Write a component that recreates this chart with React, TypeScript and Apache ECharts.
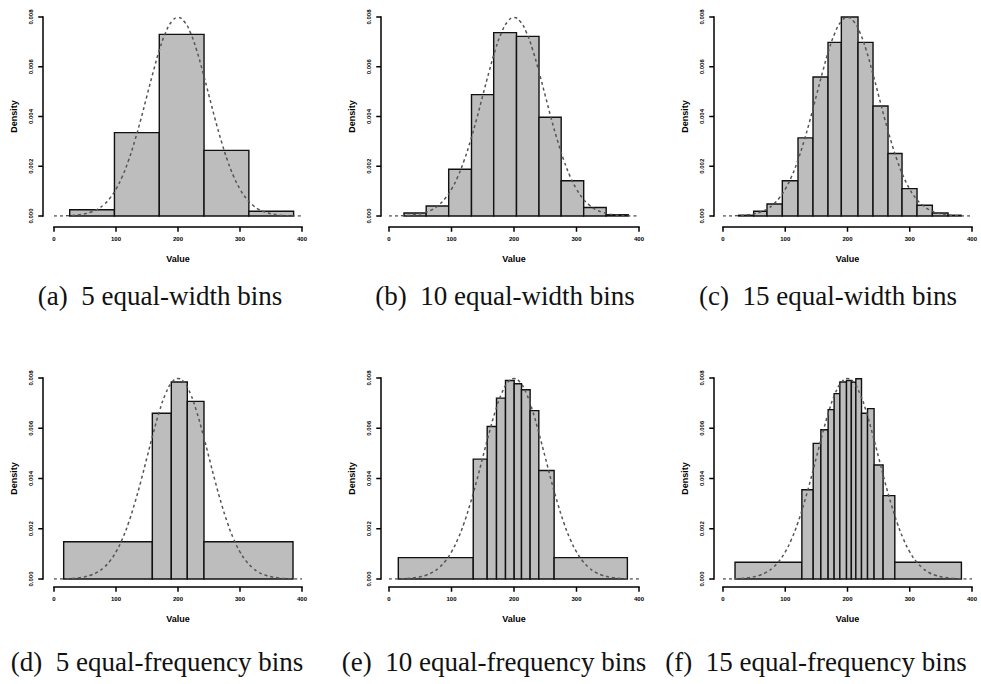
import React, { useEffect, useRef } from "react";
import * as echarts from "echarts";

// Density curve (dashed)
const CURVE_X = [0, 10, 20, 30, 40, 50, 60, 70, 80, 90, 100, 110, 120, 130, 140, 150, 160, 170, 180, 190, 200,
  210, 220, 230, 240, 250, 260, 270, 280, 290, 300, 310, 320, 330, 340, 350, 360, 370, 380, 390, 400];
const CURVE_Y = [0.0, 0.0, 0.00001, 0.00002, 0.00005, 0.00009, 0.00016, 0.00027, 0.00045, 0.00071, 0.00108,
  0.00158, 0.00222, 0.003, 0.00388, 0.00484, 0.00579, 0.00667, 0.00737, 0.00782, 0.00798,
  0.00782, 0.00737, 0.00667, 0.00579, 0.00484, 0.00388, 0.003, 0.00222, 0.00158, 0.00108,
  0.00071, 0.00045, 0.00027, 0.00016, 0.00009, 0.00005, 0.00002, 0.00001, 0.0, 0.0];

// (a) 5 equal-width bins
const EDGES_A = [25.3, 97.5, 169.8, 242.0, 314.3, 386.5];
const DENS_A = [0.00025, 0.00335, 0.0073, 0.00264, 0.00019];
// (b) 10 equal-width bins
const EDGES_B = [24, 59.5, 95.5, 132, 167.5, 204, 240, 275.5, 311.5, 347.5, 383];
const DENS_B = [0.00012, 0.0004, 0.00188, 0.00488, 0.00737, 0.00722, 0.00397, 0.00142, 0.00034, 0.00005];
// (c) 15 equal-width bins
const EDGES_C = [25.2, 49.3, 70.7, 95.3, 120.5, 144.6, 168.7, 190.1, 216.9, 241.0, 265.1, 287.6, 311.7, 336.3, 361.5, 382.9];
const DENS_C = [0.00003, 0.00019, 0.00048, 0.00142, 0.00314, 0.00559, 0.00698, 0.008, 0.00698, 0.00442, 0.00251, 0.0011, 0.00043, 0.00012, 0.00003];
// (d) 5 equal-frequency bins
const EDGES_D = [15.6, 158.6, 189.2, 215, 241.9, 385.5];
const DENS_D = [0.00148, 0.0066, 0.00784, 0.00707, 0.00148];
// (e) 10 equal-frequency bins
const EDGES_E = [14.9, 134.8, 157.1, 172.0, 186.4, 200.3, 212.0, 225.8, 239.7, 264.2, 381.4];
const DENS_E = [0.00085, 0.00477, 0.00607, 0.0072, 0.0079, 0.00777, 0.00753, 0.0067, 0.00432, 0.00085];
// (f) 15 equal-frequency bins
const EDGES_F = [19.3, 126.7, 144.9, 157.2, 168.9, 178.5, 187.7, 198.4, 206.2, 213.4, 222.5, 232.2, 242.7, 257.2, 276.0, 383.0];
const DENS_F = [0.000665, 0.00355, 0.0054, 0.00594, 0.00674, 0.00738, 0.00784, 0.0079, 0.00783, 0.00797, 0.0066, 0.00678, 0.00454, 0.00332, 0.000665];

const X_TICKS = [0, 100, 200, 300, 400];
const Y_TICKS = [0, 0.002, 0.004, 0.006, 0.008];

const CAPTIONS = [
  "(a)  5 equal-width bins",
  "(b)  10 equal-width bins",
  "(c)  15 equal-width bins",
  "(d)  5 equal-frequency bins",
  "(e)  10 equal-frequency bins",
  "(f)  15 equal-frequency bins",
];
const X_NAME = "Value";
const Y_NAME = "Density";

const PANELS = [
  { edges: EDGES_A, dens: DENS_A },
  { edges: EDGES_B, dens: DENS_B },
  { edges: EDGES_C, dens: DENS_C },
  { edges: EDGES_D, dens: DENS_D },
  { edges: EDGES_E, dens: DENS_E },
  { edges: EDGES_F, dens: DENS_F },
];

const LAYOUT = [
  { left: 54, top: 17, width: 248, height: 199, yOff: 11, xOff: 11, capX: 160, capY: 296 },
  { left: 389, top: 17, width: 250, height: 199, yOff: 8, xOff: 11, capX: 505, capY: 296 },
  { left: 723, top: 17, width: 249, height: 199, yOff: 9, xOff: 11, capX: 828, capY: 296 },
  { left: 54, top: 378, width: 248, height: 201, yOff: 11, xOff: 8, capX: 157, capY: 662 },
  { left: 389, top: 378, width: 250, height: 201, yOff: 8, xOff: 8, capX: 494, capY: 662 },
  { left: 723, top: 378, width: 249, height: 201, yOff: 9, xOff: 8, capX: 816, capY: 662 },
];

const SANS = "Liberation Sans";
const TICK_LEN = 4;
const LW = 1.5;

// Detached R-style axis lines and ticks, built as thin filled rectangles
function axisRects(toPx: (v: number[]) => number[], yOff: number, xOff: number) {
  const o = toPx([X_TICKS[0], Y_TICKS[0]]);
  const topY = toPx([X_TICKS[0], Y_TICKS[Y_TICKS.length - 1]])[1];
  const rightX = toPx([X_TICKS[X_TICKS.length - 1], Y_TICKS[0]])[0];
  const ax = o[0] - yOff;
  const ay = o[1] + xOff;
  const h = LW / 2;
  const r = (x: number, y: number, w: number, hh: number) => ({
    type: "rect",
    shape: { x, y, width: w, height: hh },
    style: { fill: "#000", stroke: "none" },
  });
  const out: any[] = [
    r(ax - h, topY - h, LW, o[1] - topY + LW),
    r(o[0] - h, ay - h, rightX - o[0] + LW, LW),
  ];
  Y_TICKS.forEach((t) => {
    const y = toPx([X_TICKS[0], t])[1];
    out.push(r(ax - TICK_LEN - h, y - h, TICK_LEN + h, LW));
  });
  X_TICKS.forEach((t) => {
    const x = toPx([t, Y_TICKS[0]])[0];
    out.push(r(x - h, ay, LW, TICK_LEN + h));
  });
  return out;
}

export default function App() {
  const ref = useRef<HTMLDivElement>(null);
  useEffect(() => {
    if (!ref.current) return;
    const chart = echarts.init(ref.current, null, { renderer: "svg" });
    const grids = LAYOUT.map((l) => ({ left: l.left, top: l.top, width: l.width, height: l.height }));
    const xAxes = LAYOUT.map((l, i) => ({
      type: "value",
      gridIndex: i,
      min: X_TICKS[0],
      max: X_TICKS[X_TICKS.length - 1],
      interval: 100,
      offset: l.xOff,
      axisLine: { show: false, onZero: false },
      axisTick: { show: false },
      axisLabel: { fontSize: 6, margin: 9, color: "#000", fontFamily: SANS, fontWeight: "bold" },
      splitLine: { show: false },
      name: X_NAME,
      nameLocation: "middle",
      nameGap: 27,
      nameTextStyle: { fontSize: 9, color: "#000", fontFamily: SANS, fontWeight: "bold" },
    }));
    const yAxes = LAYOUT.map((l, i) => ({
      type: "value",
      gridIndex: i,
      min: Y_TICKS[0],
      max: Y_TICKS[Y_TICKS.length - 1],
      interval: 0.002,
      offset: l.yOff,
      axisLine: { show: false, onZero: false },
      axisTick: { show: false },
      axisLabel: {
        fontSize: 6,
        margin: 9,
        rotate: 90,
        color: "#000",
        fontFamily: SANS,
        fontWeight: "bold",
        formatter: (v: number) => v.toFixed(3),
      },
      splitLine: { show: false },
      name: Y_NAME,
      nameLocation: "middle",
      nameGap: 25,
      nameRotate: 90,
      nameTextStyle: { fontSize: 9, color: "#000", fontFamily: SANS, fontWeight: "bold" },
    }));
    const series: any[] = [];
    PANELS.forEach((p, i) => {
      const l = LAYOUT[i];
      series.push({
        type: "custom",
        xAxisIndex: i,
        yAxisIndex: i,
        clip: false,
        data: p.dens.map((d, j) => [p.edges[j], p.edges[j + 1], d]),
        encode: { x: [0, 1], y: 2 },
        renderItem: (params: any, api: any) => {
          const a = api.coord([api.value(0), api.value(2)]);
          const b = api.coord([api.value(1), 0]);
          const rect = {
            type: "rect",
            shape: { x: a[0], y: a[1], width: b[0] - a[0], height: b[1] - a[1] },
            style: { fill: "#bdbdbd", stroke: "#111", lineWidth: 1.4 },
          };
          if (params.dataIndex !== 0) return rect;
          return { type: "group", children: [rect, ...axisRects((v) => api.coord(v), l.yOff, l.xOff)] };
        },
        z: 2,
      });
      series.push({
        type: "line",
        xAxisIndex: i,
        yAxisIndex: i,
        data: CURVE_X.map((x, k) => [x, CURVE_Y[k]]),
        showSymbol: false,
        smooth: true,
        lineStyle: { color: "#555", width: 1.5, type: [3, 3] },
        z: 3,
      });
    });
    const captions = LAYOUT.map((l, i) => ({
      type: "text",
      x: l.capX,
      y: l.capY,
      style: {
        text: CAPTIONS[i],
        fill: "#111",
        fontSize: 27,
        fontFamily: "Liberation Serif",
        align: "center",
        verticalAlign: "middle",
      },
    }));
    chart.setOption({
      animation: false,
      grid: grids,
      xAxis: xAxes,
      yAxis: yAxes,
      series,
      graphic: captions,
    });
    return () => chart.dispose();
  }, []);
  return (
    <div
      ref={ref}
      style={{ position: "absolute", left: 0, top: 0, width: 981, height: 684, background: "#fff" }}
    />
  );
}
